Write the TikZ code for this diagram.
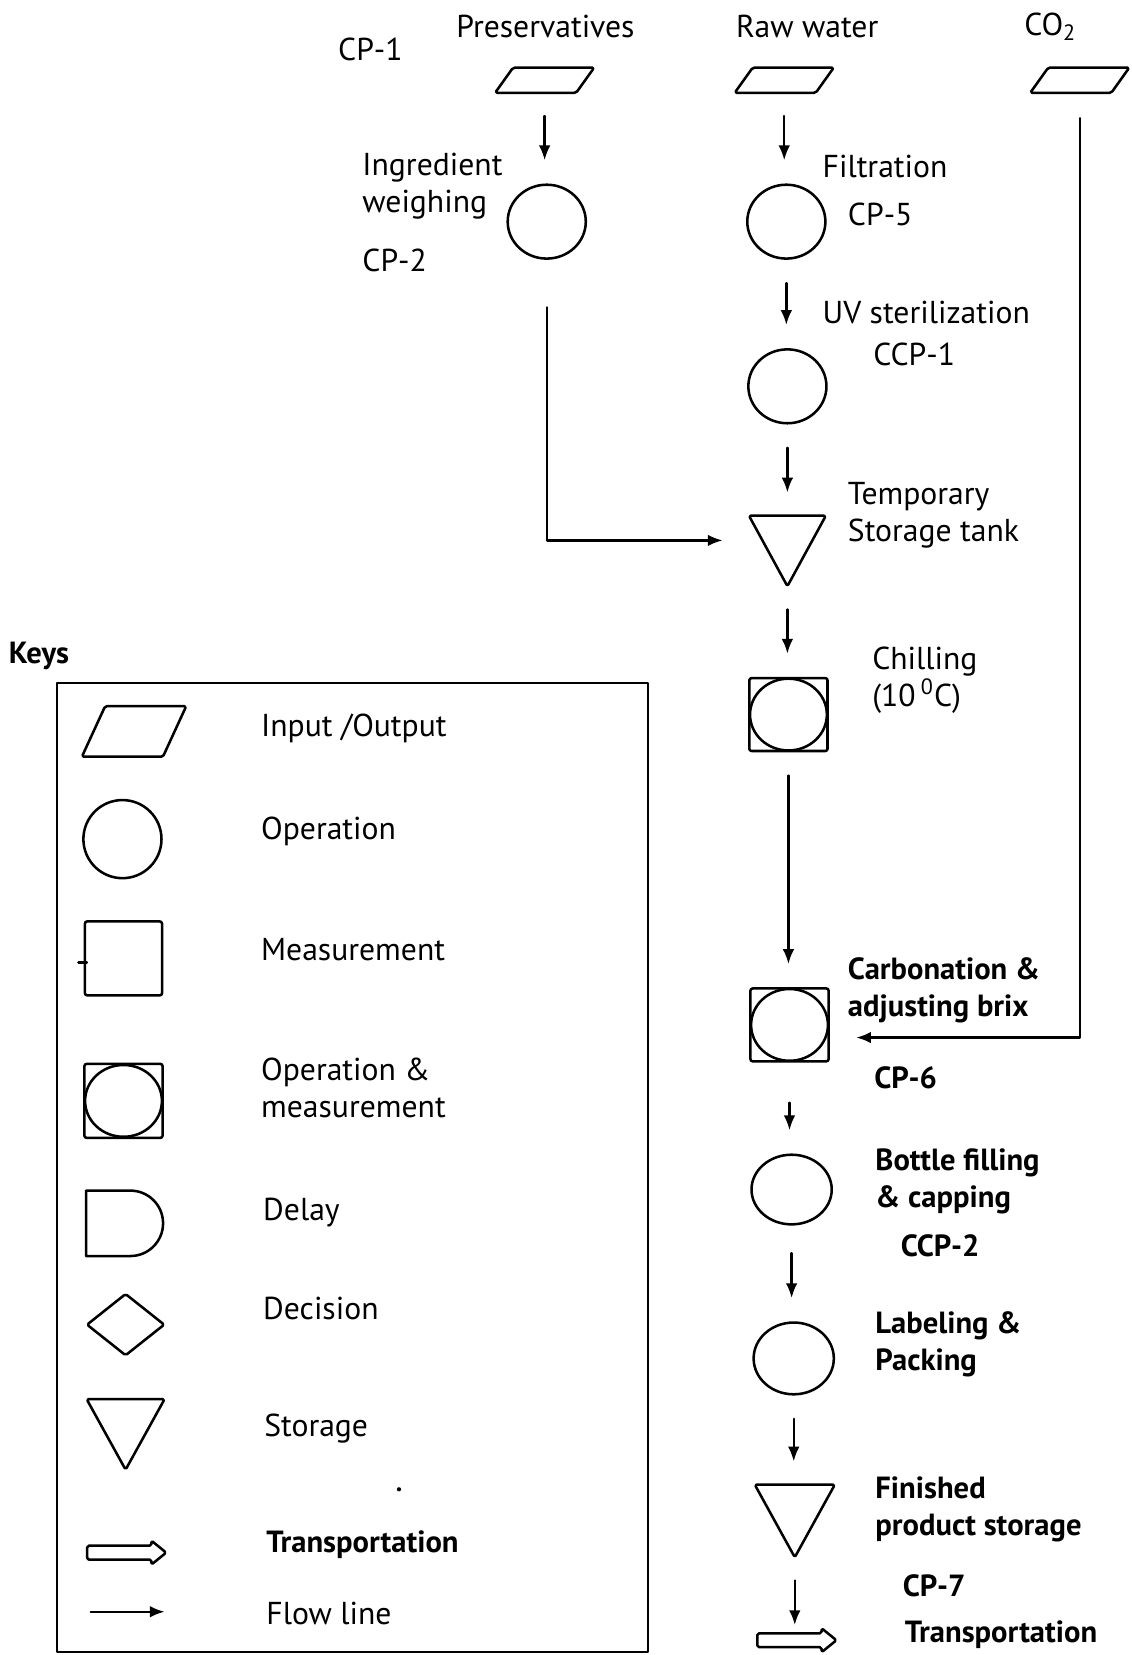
\documentclass[tikz,border=0pt]{standalone}
\usepackage{fontspec}
\setmainfont{PT Sans}
\usetikzlibrary{arrows.meta,shapes.geometric,shapes.misc}

\newcommand{\ioshape}[2]{%
  \draw[line width=1.2pt,rounded corners=0.8pt] (#1.south west) -- ([xshift=#2]#1.north west)
    -- (#1.north east) -- ([xshift=-#2]#1.south east) -- cycle;}
\newcommand{\storeshape}[1]{%
  \draw[line width=1.2pt,rounded corners=0.8pt] (#1.north west) -- (#1.north east) -- (#1.south) -- cycle;}
\newcommand{\transshape}[1]{%
  \draw[line width=1.2pt,rounded corners=0.8pt] ([yshift=3.3pt]#1.west) -- ([xshift=-7pt,yshift=3.3pt]#1.east)
    -- ([xshift=-7pt]#1.north east) -- (#1.east) -- ([xshift=-7pt]#1.south east)
    -- ([xshift=-7pt,yshift=-3.3pt]#1.east) -- ([yshift=-3.3pt]#1.west) -- cycle;}

\begin{document}
\begin{tikzpicture}[x=0.5pt,y=-0.5pt,line cap=round,line join=round,
  every node/.style={inner sep=0pt},
  lbl/.style={anchor=west,align=left,font=\fontsize{15}{17.5}\selectfont},
  blbl/.style={lbl,font=\fontsize{14.5}{17.5}\selectfont\bfseries},
  shp/.style={draw,line width=1.2pt},
  io/.style={rectangle,minimum width=46.5pt,minimum height=11.5pt},
  oper/.style={shp,ellipse,minimum width=37pt,minimum height=35pt},
  opmeas/.style={shp,rectangle,rounded corners=1pt,minimum width=37pt,minimum height=34.5pt,
    path picture={\draw[line width=1.2pt] (path picture bounding box.center) ellipse [x radius=18.2pt,y radius=17pt];}},
  store/.style={rectangle,minimum width=36pt,minimum height=33pt},
  transp/.style={rectangle,minimum width=37pt,minimum height=11pt},
  flow/.style={line width=1.1pt,-{Latex[length=7pt,width=5.5pt]},shorten <=11pt,shorten >=11pt}]
  \useasboundingbox (0,0) rectangle (1072,1568);

  % process chart
  \node[io] (pres) at (516,76) {};
  \ioshape{pres}{8.5pt}
  \node[io] (raw) at (743,76) {};
  \ioshape{raw}{8.5pt}
  \node[io] (co2) at (1023,76) {};
  \ioshape{co2}{8.5pt}
  \node[oper] (weigh) at (518,210) {};
  \node[oper] (filt) at (745,210) {};
  \node[oper] (uv) at (746,366) {};
  \node[store] (temp) at (746,522) {};
  \storeshape{temp}
  \node[opmeas] (chill) at (747,677) {};
  \node[opmeas] (carb) at (748,971) {};
  \node[oper,minimum width=38pt,minimum height=33pt] (bottle) at (750,1127) {};
  \node[oper,minimum width=38pt,minimum height=34pt] (label) at (752,1287) {};
  \node[store,minimum width=37.5pt,minimum height=34pt] (fin) at (753,1441) {};
  \storeshape{fin}
  \node[transp] (trans) at (755,1554) {};
  \transshape{trans}

  \node[lbl] (tpres) at (432,25) {Preservatives};
  \node[lbl] (tcp1) at (320,47) {CP-1};
  \node[lbl] (traw) at (697,25) {Raw water};
  \node[lbl] (tco2) at (970,25) {CO\textsubscript{2}};
  \node[lbl] (tweigh) at (343,176) {Ingredient\\weighing};
  \node[lbl] (tcp2) at (343,247) {CP-2};
  \node[lbl] (tfilt) at (779,158) {Filtration};
  \node[lbl] (tcp5) at (803,203) {CP-5};
  \node[lbl] (tuv) at (779,296) {UV sterilization};
  \node[lbl] (tccp1) at (827,336) {CCP-1};
  \node[lbl] (ttemp) at (803,488) {Temporary\\Storage tank};
  \node[lbl] (tchill) at (826,644) {Chilling\\(10\,\textsuperscript{0}C)};
  \node[blbl] (tcarb) at (803,938) {Carbonation \&\\adjusting brix};
  \node[blbl] (tcp6) at (828,1021) {CP-6};
  \node[blbl] (tbottle) at (829,1119) {Bottle filling\\\& capping};
  \node[blbl] (tccp2) at (853,1180) {CCP-2};
  \node[blbl] (tlabel) at (829,1274) {Labeling \&\\Packing};
  \node[blbl] (tfin) at (829,1430) {Finished\\product storage};
  \node[blbl] (tcp7) at (855,1502) {CP-7};
  \node[blbl] (ttrans) at (857,1549) {Transportation};

  \draw[flow] (pres) -- (pres |- weigh.north);
  \draw[flow] (raw) -- (raw |- filt.north);
  \draw[flow] (filt) -- (filt |- uv.north);
  \draw[flow] (uv) -- (uv |- temp.north);
  \draw[flow] (temp.south) -- (temp.south |- chill.north);
  \draw[flow] (chill) -- (chill |- carb.north);
  \draw[flow,shorten <=19pt] (carb) -- (carb |- bottle.north);
  \draw[flow,shorten <=13pt] (bottle) -- (bottle |- label.north);
  \draw[flow] (label) -- (label |- fin.north);
  \draw[flow,shorten >=1.5pt] (fin.south) -- (fin.south |- trans.north);
  \draw[flow,shorten <=22.5pt,shorten >=12.5pt] (weigh) |- ([yshift=5pt]temp.west);
  \draw[flow,shorten <=12pt,shorten >=12.5pt] (co2) |- ([yshift=-6pt]carb.east);

  % keys
  \node[blbl] (keys) at (8,621) {Keys};
  \draw[line width=1.2pt] (54,647) rectangle (614,1565);
  \node[io,minimum width=49pt,minimum height=23.5pt] (kio) at (127,693) {};
  \ioshape{kio}{11pt}
  \node[oper,minimum width=37pt,minimum height=37pt] (kop) at (116,795) {};
  \node[shp,rectangle,rounded corners=1pt,minimum width=36.5pt,minimum height=35pt] (kmeas) at (117,908) {};
  \draw[line width=1.2pt] ([xshift=-2.5pt,yshift=-2pt]kmeas.west) -- ([xshift=1.5pt,yshift=-2pt]kmeas.west);
  \node[opmeas,minimum height=35pt] (kopm) at (117,1043) {};
  \node[shp,rounded rectangle,rounded rectangle west arc=none,minimum width=36.5pt,minimum height=31pt] (kdelay) at (118,1159) {};
  \node[shp,diamond,rounded corners=0.8pt,minimum width=37pt,minimum height=29.5pt] (kdec) at (119,1255) {};
  \node[store,minimum width=36.5pt] (kstore) at (119,1359) {};
  \storeshape{kstore}
  \node[transp] (ktrans) at (120,1471) {};
  \transshape{ktrans}
  \coordinate (kfla) at (86,1527);
  \coordinate (kflb) at (156,1527);
  \draw[flow,shorten <=0pt,shorten >=0pt] (kfla) -- (kflb);
  \fill (378,1411) circle (1pt);

  \node[lbl] (tkio) at (247,690) {Input /Output};
  \node[lbl] (tkop) at (247,788) {Operation};
  \node[lbl] (tkmeas) at (247,900) {Measurement};
  \node[lbl] (tkopm) at (247,1031) {Operation \&\\measurement};
  \node[lbl] (tkdelay) at (249,1149) {Delay};
  \node[lbl] (tkdec) at (249,1240) {Decision};
  \node[lbl] (tkstore) at (250,1353) {Storage};
  \node[blbl] (tktrans) at (252,1463) {Transportation};
  \node[lbl] (tkflow) at (252,1529) {Flow line};
\end{tikzpicture}
\end{document}
